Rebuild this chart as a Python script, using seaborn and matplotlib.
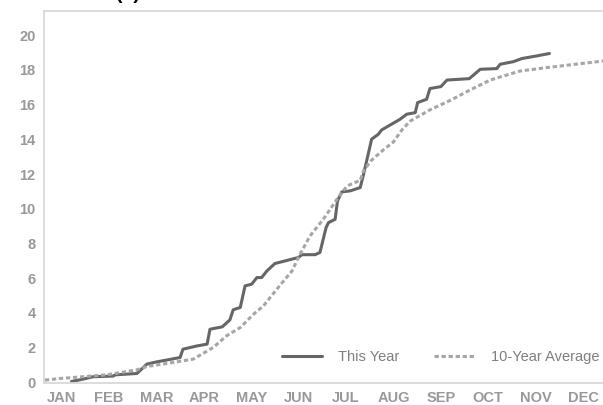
import pandas as pd
import matplotlib.pyplot as plt
import seaborn as sns

# Cumulative values (x in months from Jan 1)
this_year_month = [0.58, 0.82, 1.03, 1.46, 1.50, 1.96, 2.17, 2.38, 2.87, 2.93,
                   3.23, 3.44, 3.50, 3.76, 3.92, 3.99, 4.14, 4.24, 4.38, 4.49,
                   4.59, 4.70, 4.87, 5.37, 5.44, 5.72, 5.82, 5.95, 6.00, 6.14,
                   6.19, 6.28, 6.46, 6.67, 6.74, 6.91, 7.05, 7.12, 7.51, 7.65,
                   7.83, 7.88, 8.07, 8.14, 8.37, 8.50, 8.97, 9.20, 9.55, 9.62,
                   9.90, 10.08, 10.39, 10.66]
this_year_value = [0.04, 0.17, 0.31, 0.35, 0.42, 0.50, 1.04, 1.17, 1.42, 1.90,
                   2.09, 2.19, 3.05, 3.19, 3.59, 4.17, 4.31, 5.55, 5.65, 6.03,
                   6.03, 6.41, 6.84, 7.19, 7.35, 7.35, 7.48, 8.92, 9.20, 9.39,
                   10.45, 10.97, 11.03, 11.22, 11.99, 14.01, 14.29, 14.54, 15.16, 15.45,
                   15.54, 16.12, 16.31, 16.93, 17.04, 17.42, 17.50, 18.04, 18.08, 18.33,
                   18.48, 18.66, 18.81, 18.95]

avg_month = [0.02, 0.34, 0.62, 1.32, 1.96, 2.17, 2.73, 3.15, 3.57, 3.85,
             4.14, 4.42, 4.63, 4.91, 5.23, 5.40, 5.61, 5.89, 6.18, 6.39,
             6.67, 6.74, 6.91, 7.16, 7.37, 7.55, 7.72, 8.14, 8.57, 8.99,
             9.41, 10.04, 10.61, 11.80]
avg_value = [0.12, 0.21, 0.27, 0.42, 0.71, 0.90, 1.14, 1.33, 2.00, 2.67,
             3.15, 3.92, 4.40, 5.36, 6.41, 7.38, 8.43, 9.39, 10.55, 11.31,
             11.64, 12.20, 12.80, 13.40, 13.85, 14.55, 15.05, 15.70, 16.25, 16.85,
             17.42, 17.94, 18.14, 18.52]

months = ["JAN", "FEB", "MAR", "APR", "MAY", "JUN",
          "JUL", "AUG", "SEP", "OCT", "NOV", "DEC"]

df = pd.concat([
    pd.DataFrame({"month": this_year_month, "value": this_year_value, "series": "This Year"}),
    pd.DataFrame({"month": avg_month, "value": avg_value, "series": "10-Year Average"}),
])

sns.set_style("white")
plt.rcParams["font.family"] = ["Liberation Sans", "DejaVu Sans"]

fig = plt.figure(figsize=(6.03, 4.05), dpi=100)
ax = fig.add_axes([0.073, 0.0543, 0.927, 0.9185])

sns.lineplot(data=df, x="month", y="value", hue="series", style="series",
             palette={"This Year": "#666666", "10-Year Average": "#a6a6a6"},
             dashes={"This Year": "", "10-Year Average": (1.4, 0.9)},
             linewidth=2.2, sort=False, estimator=None, ax=ax)

ax.set_xlim(0, 11.79)
ax.set_ylim(-0.05, 21.4)
ax.set_xticks([i + 0.37 for i in range(12)])
ax.set_xticklabels(months)
ax.set_yticks(range(0, 21, 2))
ax.tick_params(length=0, colors="#999999", labelsize=10.5, pad=6)
for lab in ax.get_xticklabels() + ax.get_yticklabels():
    lab.set_fontweight("bold")
ax.set_xlabel("")
ax.set_ylabel("")

for side in ["left", "top", "bottom"]:
    ax.spines[side].set_color("#d9d9d9")
    ax.spines[side].set_linewidth(1.3)
ax.spines["right"].set_visible(False)

leg = ax.legend(title=None, loc="center right", bbox_to_anchor=(0.993, 0.07),
                ncol=2, frameon=False, fontsize=10.5, handlelength=2.75,
                handletextpad=1.1, columnspacing=2.4, borderaxespad=0, borderpad=0)
for t in leg.get_texts():
    t.set_color("#7f7f7f")

fig.text(0.212, 1.0 + 0.5 / 405, "(a)", fontsize=14, fontweight="bold",
         ha="center", va="baseline", color="black")

plt.savefig("out.png", dpi=100)
